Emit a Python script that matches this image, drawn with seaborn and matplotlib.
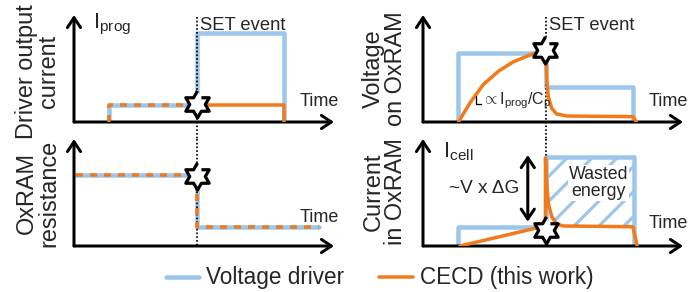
import numpy as np
import matplotlib
matplotlib.use('Agg')
import matplotlib.pyplot as plt
from matplotlib.lines import Line2D
import seaborn as sns

# Data (time and level in arbitrary units, 0..10)
t_event = 4.73

drv_blue_t = [1.36, 1.36, 4.73, 4.73, 8.09, 8.09]
drv_blue_i = [0, 1.59, 1.59, 8.29, 8.29, 0]
drv_orange_pre_t = [1.36, 1.36, 4.73]
drv_orange_pre_i = [0, 1.59, 1.59]
drv_orange_post_t = [4.73, 8.09, 8.09]
drv_orange_post_i = [1.59, 1.59, 0]

res_t = [0.08, 4.73, 4.73, 9.43]
res_r = [6.64, 6.64, 1.75, 1.75]

volt_blue_t = [1.34, 1.34, 4.73, 4.73, 8.07, 8.07]
volt_blue_v = [0, 6.48, 6.48, 3.24, 3.24, 0]
volt_orange_t = [1.36, 1.81, 2.32, 2.90, 3.47, 3.99, 4.43, 4.70, 4.74, 4.76, 4.82, 4.95, 5.14, 5.53, 8.07, 8.22]
volt_orange_v = [0, 1.80, 3.50, 4.74, 5.62, 6.14, 6.52, 6.68, 5.60, 3.93, 2.36, 1.28, 0.75, 0.56, 0.50, 0]

cur_blue_t = [1.34, 1.34, 4.73, 4.73, 8.10, 8.10]
cur_blue_i = [0, 1.75, 1.75, 8.35, 8.35, 0]
cur_orange_t = [1.42, 4.31, 4.71, 4.71, 4.76, 4.82, 4.95, 5.14, 5.40, 8.07, 8.24]
cur_orange_i = [0, 1.65, 1.80, 8.22, 5.86, 3.99, 2.74, 2.06, 1.87, 1.80, 0]
wasted_t = [4.71, 4.76, 4.82, 4.95, 5.14, 5.40, 8.07]
wasted_low = [8.22, 5.86, 3.99, 2.74, 2.06, 1.87, 1.80]
wasted_top = 8.35

star_t = [4.73, 4.73, 4.69, 4.73]
star_v = [1.65, 6.55, 6.73, 1.50]

panel_labels = ['Driver output\ncurrent', 'OxRAM\nresistance', 'Voltage\non OxRAM', 'Current\nin OxRAM']
legend_labels = ['Voltage driver', 'CECD (this work)']

BLUE = '#9dc6ec'
ORANGE = '#f27a1a'

DPI = 75
W, H = 699, 292


def pt(p):
    # pixel size -> points
    return p * 72 / DPI


sns.set_theme(style='white')
plt.rcParams['font.family'] = ['Liberation Sans', 'DejaVu Sans']
plt.rcParams['mathtext.fontset'] = 'custom'
plt.rcParams['mathtext.rm'] = 'Liberation Sans'
plt.rcParams['mathtext.it'] = 'Liberation Sans:italic'
plt.rcParams['hatch.color'] = BLUE
plt.rcParams['hatch.linewidth'] = pt(3.2)

fig = plt.figure(figsize=(W / DPI, H / DPI), dpi=DPI)


def box(x0, base):
    return [x0 / W, (H - base) / H, 260 / W, 107 / H]


ax_drv = fig.add_axes(box(74, 122))
ax_res = fig.add_axes(box(74, 246))
ax_volt = fig.add_axes(box(423, 122))
ax_cur = fig.add_axes(box(423, 246))
axes = [ax_drv, ax_res, ax_volt, ax_cur]

hexagram = [(np.cos(np.radians(90 + 30 * k)) * (1 if k % 2 == 0 else 0.577),
             np.sin(np.radians(90 + 30 * k)) * (1 if k % 2 == 0 else 0.577)) for k in range(12)]

blue_kw = dict(color=BLUE, lw=pt(4.5), sort=False, estimator=None, zorder=2)
orange_kw = dict(color=ORANGE, lw=pt(3.5), sort=False, estimator=None, zorder=3)
arrow_kw = dict(arrowstyle='->,head_length=0.9,head_width=0.6', lw=pt(3), color='black',
                shrinkA=0, shrinkB=0, mutation_scale=pt(11))
gap = (139 - 122) / 10.7

for i, ax in enumerate(axes):
    ax.set_xlim(0, 10)
    ax.set_ylim(0, 10)
    ax.axis('off')
    ax.annotate('', xy=(0, 10), xytext=(0, 0), arrowprops=arrow_kw, annotation_clip=False)
    ax.annotate('', xy=(10, 0), xytext=(0, 0), arrowprops=arrow_kw, annotation_clip=False)
    top_row = i in (0, 2)
    ax.plot([t_event, t_event], [9.8 if top_row else 10, -gap if top_row else 0],
            ls=(0, (1, 1.2)), color='black', lw=pt(1.7), clip_on=False, zorder=2.5)
    ax.plot([star_t[i]], [star_v[i]], marker=hexagram, ms=pt(27), mfc='white', mec='black',
            mew=pt(3.2), ls='none', clip_on=False, zorder=6)
    lx = -0.14 if i < 2 else -0.15
    ly = {0: 0.47, 1: 0.495, 2: 0.495, 3: 0.505}[i]
    ax.text(lx, ly, panel_labels[i], transform=ax.transAxes, rotation=90, ha='center',
            va='center', multialignment='center', fontsize=pt(23.5), linespacing=0.95)
    time_y = {0: 1.9, 1: 2.7, 2: 1.9, 3: 2.06}[i]
    ax.text(10.2, time_y, 'Time', ha='right', va='center', fontsize=pt(18), clip_on=False)

# driver output current
sns.lineplot(x=drv_blue_t, y=drv_blue_i, ax=ax_drv, **blue_kw)
sns.lineplot(x=drv_orange_pre_t, y=drv_orange_pre_i, ax=ax_drv, ls=(0, (2, 2)), **orange_kw)
sns.lineplot(x=drv_orange_post_t, y=drv_orange_post_i, ax=ax_drv, **orange_kw)
ax_drv.text(0.73, 9.1, r'$\mathregular{I_{prog}}$', ha='left', va='center', fontsize=pt(22))
ax_drv.text(4.85, 9.0, 'SET event', ha='left', va='center', fontsize=pt(18.4))

# OxRAM resistance
sns.lineplot(x=res_t, y=res_r, ax=ax_res, **blue_kw)
sns.lineplot(x=res_t, y=res_r, ax=ax_res, ls=(0, (2, 2)), **orange_kw)

# voltage on OxRAM
sns.lineplot(x=volt_blue_t, y=volt_blue_v, ax=ax_volt, **blue_kw)
sns.lineplot(x=volt_orange_t, y=volt_orange_v, ax=ax_volt, **orange_kw)
ax_volt.plot([2.03, 2.03, 2.22], [2.4, 1.68, 1.68], color='black', lw=pt(1.3), zorder=4)
ax_volt.text(2.27, 2.0, r'$\propto\mathregular{I_{prog}/C_p}$', ha='left', va='center',
             fontsize=pt(16))
ax_volt.text(4.85, 9.0, 'SET event', ha='left', va='center', fontsize=pt(18.4))

# current in OxRAM
ax_cur.fill_between(wasted_t, wasted_low, wasted_top, facecolor='none', edgecolor=BLUE,
                    hatch='/', linewidth=0, zorder=1)
sns.lineplot(x=cur_blue_t, y=cur_blue_i, ax=ax_cur, **blue_kw)
sns.lineplot(x=cur_orange_t, y=cur_orange_i, ax=ax_cur, **orange_kw)
ax_cur.annotate('', xy=(4.03, 8.5), xytext=(4.03, 2.27),
                arrowprops=dict(arrowstyle='<->,head_length=0.9,head_width=0.6', lw=pt(3),
                                color='black', shrinkA=0, shrinkB=0, mutation_scale=pt(11)))
ax_cur.text(0.77, 8.8, r'$\mathregular{I_{cell}}$', ha='left', va='center', fontsize=pt(22))
ax_cur.text(2.35, 5.33, '~V x ΔG', ha='center', va='center', fontsize=pt(19))
ax_cur.text(6.75, 5.89, 'Wasted\nenergy', ha='center', va='center', fontsize=pt(17.7),
            linespacing=1.0, zorder=5,
            bbox=dict(facecolor='white', edgecolor='none', pad=0.5))

handles = [Line2D([], [], color=BLUE, lw=pt(4.5)), Line2D([], [], color=ORANGE, lw=pt(3.5))]
fig.legend(handles, legend_labels, loc='center', bbox_to_anchor=(0.543, 0.048), ncol=2,
           frameon=False, fontsize=pt(22.5), handlelength=1.5, handletextpad=0.31,
           columnspacing=1.55, borderpad=0, borderaxespad=0)

fig.savefig('out.png', dpi=DPI)
